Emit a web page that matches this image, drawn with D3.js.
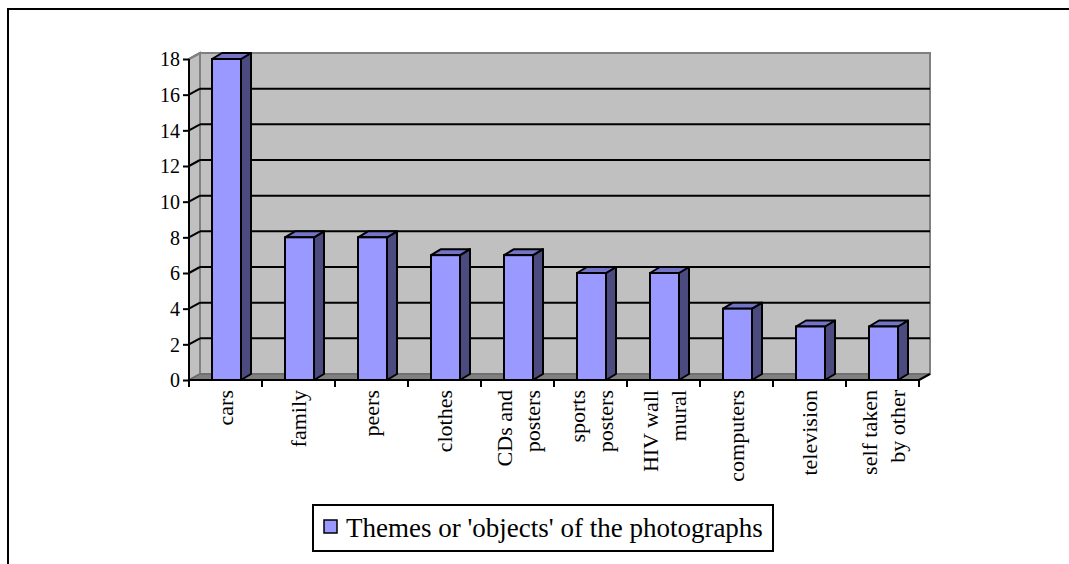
<!DOCTYPE html>
<html><head><meta charset="utf-8">
<script src="https://cdn.jsdelivr.net/npm/d3@7"></script>
<style>html,body{margin:0;padding:0;background:#fff;}svg{display:block;}</style>
</head><body>
<script>
const categories = ["cars","family","peers","clothes","CDs and|posters","sports|posters","HIV wall|mural","computers","television","self taken|by other"];
const values = [18,8,8,7,7,6,6,4,3,3];
const yTicks = [0,2,4,6,8,10,12,14,16,18];
const legendLabel = "Themes or 'objects' of the photographs";

const W = 1069, H = 564;
const svg = d3.select("body").append("svg").attr("width", W).attr("height", H);
const FONT = "Liberation Serif, Times New Roman, serif";

// outer frame
svg.append("rect").attr("x",8).attr("y",9).attr("width",1070).attr("height",600)
  .attr("fill","none").attr("stroke","#000").attr("stroke-width",2);

const x0 = 189, x1 = 919, yBase = 380, yTop = 59;
const dx = 11, dy = -6;
const x = d3.scaleBand().domain(categories).range([x0,x1]).paddingInner(0).paddingOuter(0);
const y = d3.scaleLinear().domain([0,18]).range([yBase,yTop]);

// back wall
svg.append("rect").attr("x",x0+dx).attr("y",y(18)+dy).attr("width",x1-x0).attr("height",y(0)-y(18))
  .attr("fill","#C0C0C0").attr("stroke","#808080").attr("stroke-width",2);
// side wall
svg.append("polygon").attr("points",[[x0,y(0)],[x0+dx,y(0)+dy],[x0+dx,y(18)+dy],[x0,y(18)]].join(" "))
  .attr("fill","#C0C0C0").attr("stroke","#808080").attr("stroke-width",2);
// floor
svg.append("polygon").attr("points",[[x0,y(0)],[x1,y(0)],[x1+dx,y(0)+dy],[x0+dx,y(0)+dy]].join(" "))
  .attr("fill","#808080").attr("stroke","#606060").attr("stroke-width",1);

// gridlines
const grid = yTicks.filter(t => t>0 && t<18);
svg.append("g").selectAll("line").data(grid).join("line")
  .attr("x1",x0+dx).attr("x2",x1+dx).attr("y1",d=>y(d)+dy).attr("y2",d=>y(d)+dy)
  .attr("stroke","#000").attr("stroke-width",2);
svg.append("g").selectAll("line").data(grid).join("line")
  .attr("x1",x0).attr("x2",x0+dx).attr("y1",d=>y(d)).attr("y2",d=>y(d)+dy)
  .attr("stroke","#000").attr("stroke-width",2);
svg.append("line").attr("x1",x0).attr("x2",x0+dx).attr("y1",y(18)).attr("y2",y(18)+dy)
  .attr("stroke","#808080").attr("stroke-width",2);

// y axis
const yAxis = d3.axisLeft(y).tickValues(yTicks).tickSize(6).tickPadding(3);
const gy = svg.append("g").attr("transform",`translate(${x0},0)`).call(yAxis)
  .attr("font-family",FONT).attr("font-size",20);
gy.select(".domain").attr("stroke","#000").attr("stroke-width",2).attr("d",`M0,${y(0)}V${y(18)}`);
gy.selectAll(".tick line").attr("stroke","#000").attr("stroke-width",2);
gy.selectAll(".tick text").attr("fill","#000").attr("x",-9).attr("dy","0.34em");

// x axis line & ticks
const bounds = d3.range(categories.length+1).map(i => x0 + i*x.bandwidth());
svg.append("line").attr("x1",x0).attr("x2",x1).attr("y1",yBase).attr("y2",yBase).attr("stroke","#000").attr("stroke-width",2);
svg.append("line").attr("x1",x1).attr("x2",x1+dx).attr("y1",yBase).attr("y2",yBase+dy).attr("stroke","#000").attr("stroke-width",2);
svg.append("g").selectAll("line").data(bounds).join("line")
  .attr("x1",d=>d).attr("x2",d=>d).attr("y1",yBase).attr("y2",yBase+7).attr("stroke","#000").attr("stroke-width",2);

// bars
const bw = 29, bdx = 10, bdy = -6, boff = 23;
const bars = svg.append("g").selectAll("g").data(categories.map((c,i)=>({c,v:values[i]}))).join("g");
bars.append("polygon").attr("points",d=>{const l=x(d.c)+boff,r=l+bw,t=y(d.v);return [[r,t],[r+bdx,t+bdy],[r+bdx,yBase+bdy],[r,yBase]].join(" ");})
  .attr("fill","#4B4B80").attr("stroke","#000").attr("stroke-width",2).attr("stroke-linejoin","round");
bars.append("polygon").attr("points",d=>{const l=x(d.c)+boff,r=l+bw,t=y(d.v);return [[l,t],[l+bdx,t+bdy],[r+bdx,t+bdy],[r,t]].join(" ");})
  .attr("fill","#7373C8").attr("stroke","#000").attr("stroke-width",2).attr("stroke-linejoin","round");
bars.append("rect").attr("x",d=>x(d.c)+boff).attr("y",d=>y(d.v)).attr("width",bw).attr("height",d=>yBase-y(d.v))
  .attr("fill","#9999FF").attr("stroke","#000").attr("stroke-width",2);

// x labels
const xl = svg.append("g").selectAll("g").data(categories).join("g")
  .attr("transform",d=>`translate(${x(d)+x.bandwidth()/2},390) rotate(-90)`);
xl.each(function(d){
  const lines = d.split("|");
  const g = d3.select(this);
  const offs = lines.length===1 ? [7] : [-6, 22];
  lines.forEach((t,i)=>{
    g.append("text").attr("x",0).attr("y",offs[i]).attr("text-anchor","end")
      .attr("font-family",FONT).attr("font-size",22).attr("fill","#000").text(t);
  });
});

// legend
svg.append("rect").attr("x",313).attr("y",505).attr("width",460).attr("height",46)
  .attr("fill","#fff").attr("stroke","#000").attr("stroke-width",2);
svg.append("rect").attr("x",324).attr("y",520).attr("width",13).attr("height",13)
  .attr("fill","#9999FF").attr("stroke","#000").attr("stroke-width",1.5);
svg.append("text").attr("x",346).attr("y",537)
  .attr("font-family",FONT).attr("font-size",27).attr("fill","#000").text(legendLabel);
</script>
</body></html>
